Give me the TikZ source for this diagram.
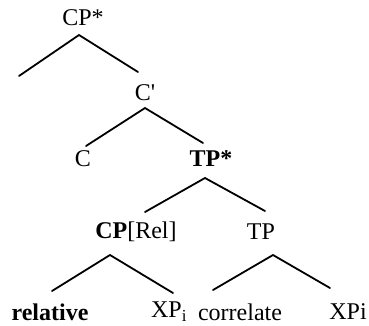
\documentclass[tikz,border=0pt]{standalone}
\usepackage{fontspec}
\setmainfont{Liberation Serif}
\begin{document}
\begin{tikzpicture}[x=1pt,y=1pt,
  lab/.style={inner sep=0pt,font=\fontsize{24}{28}\selectfont},
  branch/.style={line width=1.8pt,line cap=round}]
\useasboundingbox (0,0) rectangle (369,325);
% labels (y measured from the bottom edge)
\node[lab] (cpstar) at (83,307) {CP*};
\node[lab] (cbar)   at (145,232) {C\textquotesingle};
\node[lab] (c)      at (83,166) {C};
\node[lab] (tpstar) at (211,166) {\textbf{TP*}};
\node[lab] (cprel)  at (136,93) {\textbf{CP}[Rel]};
\node[lab] (tp)     at (261,93) {TP};
\node[lab] (rel)    at (50,13) {\textbf{relative}};
\node[lab] (xpi)    at (169,13) {XP$_{\mathrm{i}}$};
\node[lab] (corr)   at (240,13) {correlate};
\node[lab] (xpi2)   at (348,13) {XPi};
% branch end points
\coordinate (a1) at (79,290);  \coordinate (a1l) at (19,249);  \coordinate (a1r) at (138,253);
\coordinate (a2) at (145,217); \coordinate (a2l) at (86,179);  \coordinate (a2r) at (203,182);
\coordinate (a3) at (205,147); \coordinate (a3l) at (145,113); \coordinate (a3r) at (265,114);
\coordinate (a4) at (110,70);  \coordinate (a4l) at (52,34);   \coordinate (a4r) at (173,32);
\coordinate (a5) at (273,70);  \coordinate (a5l) at (213,35);  \coordinate (a5r) at (330,37);
% branches
\draw[branch] (a1l) -- (a1) -- (a1r);
\draw[branch] (a2l) -- (a2) -- (a2r);
\draw[branch] (a3l) -- (a3) -- (a3r);
\draw[branch] (a4l) -- (a4) -- (a4r);
\draw[branch] (a5l) -- (a5) -- (a5r);
\end{tikzpicture}
\end{document}
